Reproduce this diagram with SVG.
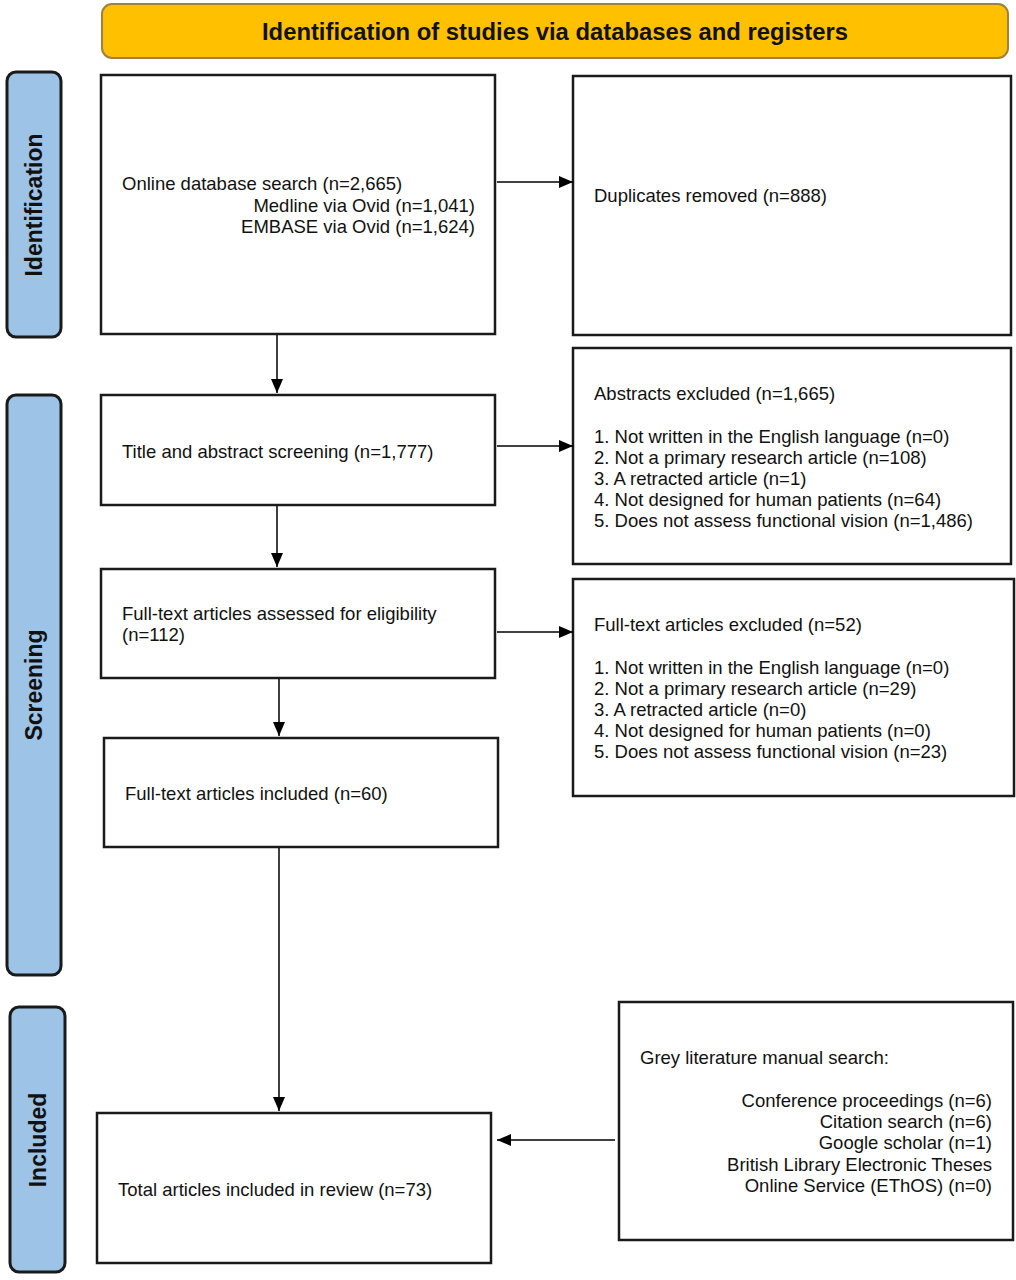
<svg xmlns="http://www.w3.org/2000/svg" width="1016" height="1280" viewBox="0 0 1016 1280">
<defs>
<marker id="ah" markerWidth="14" markerHeight="12" refX="14" refY="6" orient="auto" markerUnits="userSpaceOnUse">
<path d="M0,0 L14,6 L0,12 Z" fill="#000"/>
</marker>
<style>
.box{fill:#fff;stroke:#1a1a1a;stroke-width:2.5}
.side{fill:#9DC3E6;stroke:#1a1a1a;stroke-width:3}
.t{font-family:"Liberation Sans",Arial,sans-serif;font-size:18.5px;fill:#111}
.r{text-anchor:end}
.st{font-family:"Liberation Sans",Arial,sans-serif;font-size:23px;font-weight:bold;fill:#111;text-anchor:middle}
.con{stroke:#000;stroke-width:1.5;fill:none;marker-end:url(#ah)}
</style>
</defs>
<rect width="1016" height="1280" fill="#fff"/>
<g id="header">
<rect x="102" y="4" width="906" height="54" rx="10" fill="#FFC000" stroke="#A08040" stroke-width="2"/>
<text x="555" y="40" class="st" textLength="586" lengthAdjust="spacingAndGlyphs" font-size="22">Identification of studies via databases and registers</text>
</g>
<g id="side-identification">
<rect x="7" y="72" width="54" height="265" rx="9" class="side"/>
<text class="st" transform="translate(42,205) rotate(-90)">Identification</text>
</g>
<g id="side-screening">
<rect x="7" y="395" width="54" height="580" rx="9" class="side"/>
<text class="st" transform="translate(42,685) rotate(-90)">Screening</text>
</g>
<g id="side-included">
<rect x="10" y="1007" width="55" height="265" rx="9" class="side"/>
<text class="st" transform="translate(46,1140) rotate(-90)">Included</text>
</g>
<g id="n-search">
<rect x="101" y="75" width="394" height="259" class="box"/>
<text x="122" y="190" class="t">Online database search (n=2,665)</text>
<text x="475" y="212" class="t r">Medline via Ovid (n=1,041)</text>
<text x="475" y="233" class="t r">EMBASE via Ovid (n=1,624)</text>
</g>
<g id="n-duplicates">
<rect x="573" y="76" width="438" height="259" class="box"/>
<text x="594" y="202" class="t">Duplicates removed (n=888)</text>
</g>
<g id="n-title">
<rect x="101" y="395" width="394" height="110" class="box"/>
<text x="122" y="458" class="t">Title and abstract screening (n=1,777)</text>
</g>
<g id="n-abstracts-excluded">
<rect x="573" y="348" width="438" height="216" class="box"/>
<text x="594" y="400" class="t">Abstracts excluded (n=1,665)</text>
<text x="594" y="443" class="t">1. Not written in the English language (n=0)</text>
<text x="594" y="464" class="t">2. Not a primary research article (n=108)</text>
<text x="594" y="485" class="t">3. A retracted article (n=1)</text>
<text x="594" y="506" class="t">4. Not designed for human patients (n=64)</text>
<text x="594" y="527" class="t">5. Does not assess functional vision (n=1,486)</text>
</g>
<g id="n-fulltext-assessed">
<rect x="101" y="569" width="394" height="109" class="box"/>
<text x="122" y="620" class="t">Full-text articles assessed for eligibility</text>
<text x="122" y="641" class="t">(n=112)</text>
</g>
<g id="n-fulltext-excluded">
<rect x="573" y="579" width="441" height="217" class="box"/>
<text x="594" y="631" class="t">Full-text articles excluded (n=52)</text>
<text x="594" y="674" class="t">1. Not written in the English language (n=0)</text>
<text x="594" y="695" class="t">2. Not a primary research article (n=29)</text>
<text x="594" y="716" class="t">3. A retracted article (n=0)</text>
<text x="594" y="737" class="t">4. Not designed for human patients (n=0)</text>
<text x="594" y="758" class="t">5. Does not assess functional vision (n=23)</text>
</g>
<g id="n-fulltext-included">
<rect x="104" y="738" width="394" height="109" class="box"/>
<text x="125" y="800" class="t">Full-text articles included (n=60)</text>
</g>
<g id="n-total">
<rect x="97" y="1113" width="394" height="150" class="box"/>
<text x="118" y="1196" class="t">Total articles included in review (n=73)</text>
</g>
<g id="n-grey">
<rect x="619" y="1002" width="394" height="238" class="box"/>
<text x="640" y="1064" class="t">Grey literature manual search:</text>
<text x="992" y="1107" class="t r">Conference proceedings (n=6)</text>
<text x="992" y="1128" class="t r">Citation search (n=6)</text>
<text x="992" y="1149" class="t r">Google scholar (n=1)</text>
<text x="992" y="1171" class="t r">British Library Electronic Theses</text>
<text x="992" y="1192" class="t r">Online Service (EThOS) (n=0)</text>
</g>
<g id="connectors">
<line x1="497" y1="182" x2="573" y2="182" class="con"/>
<line x1="277" y1="335" x2="277" y2="393" class="con"/>
<line x1="497" y1="446" x2="573" y2="446" class="con"/>
<line x1="277" y1="506" x2="277" y2="567" class="con"/>
<line x1="497" y1="632" x2="573" y2="632" class="con"/>
<line x1="279" y1="679" x2="279" y2="736" class="con"/>
<line x1="279" y1="848" x2="279" y2="1111" class="con"/>
<line x1="615" y1="1140" x2="497" y2="1140" class="con"/>
</g>
</svg>
